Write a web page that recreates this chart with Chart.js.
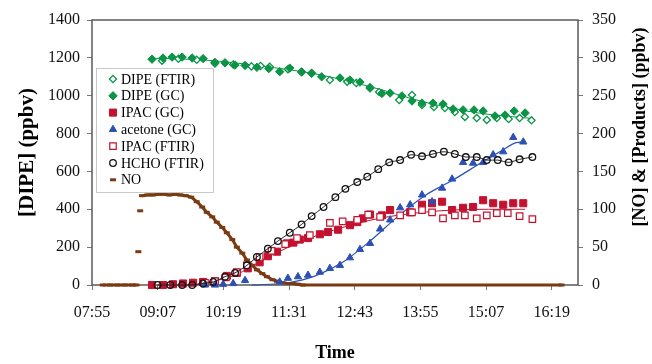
<!DOCTYPE html>
<html>
<head>
<meta charset="utf-8">
<title>DIPE photo-oxidation</title>
<script src="https://cdn.jsdelivr.net/npm/chart.js@4.4.1/dist/chart.umd.min.js"></script>
<style>
  html, body { margin: 0; padding: 0; background: #fff; }
  #wrap { width: 652px; height: 364px; }
</style>
</head>
<body>
<div id="wrap"><canvas id="chart" width="652" height="364"></canvas></div>
<script>
// times are minutes after midnight
var xTicks = [475.2, 547.2, 619.2, 691.2, 763.2, 835.2, 907.2, 979.2];
var xTickLabels = ['07:55', '09:07', '10:19', '11:31', '12:43', '13:55', '15:07', '16:19'];
var xMin = 475.2;
var xMax = 1008;

// left axis: DIPE (ppbv)
var dipeGcTime = [541, 553, 563, 574, 585, 597, 610, 621, 632, 643, 656, 669, 681, 692, 705, 716, 727, 747, 758, 769, 780, 793, 802, 815, 826, 837, 849, 860, 871, 882, 894, 904, 917, 928, 938, 950];
var dipeGcVal = [1193, 1199, 1204, 1204, 1199, 1196, 1176, 1174, 1162, 1160, 1150, 1143, 1127, 1146, 1125, 1118, 1100, 1094, 1083, 1072, 1040, 1012, 1014, 999, 972, 961, 961, 956, 930, 925, 925, 919, 893, 898, 919, 909];

var dipeFtirTime = [552, 570, 590, 610, 630, 650, 660, 670, 690, 705, 716, 736, 755, 765, 780, 790, 812, 826, 837, 850, 862, 873, 884, 897, 908, 919, 932, 944, 957];
var dipeFtirVal = [1185, 1195, 1190, 1170, 1165, 1155, 1157, 1153, 1140, 1127, 1120, 1083, 1074, 1067, 1045, 1020, 977, 1004, 951, 940, 935, 914, 888, 882, 872, 882, 877, 882, 870];

var dipeFitTime = [541, 600, 660, 720, 780, 840, 900, 957];
var dipeFitVal = [1198, 1188, 1157, 1115, 1048, 966, 908, 880];

// right axis: NO & products (ppbv)
var ipacGcTime = [541, 553, 564, 575, 586, 597, 610, 623, 634, 646, 659, 668, 678, 689, 696, 703, 712, 725, 734, 745, 758, 766, 772, 780, 793, 802, 824, 837, 848, 859, 870, 882, 893, 904, 915, 926, 937, 948];
var ipacGcVal = [0, 0, 1, 2, 3, 4, 5, 12, 16, 22, 30, 38, 44, 55, 56, 60, 62, 67, 70, 73, 79, 83, 88, 93, 92, 99, 96, 106, 108, 110, 99, 102, 103, 112, 108, 106, 108, 108];

var ipacFtirTime = [599, 610, 622, 634, 645, 659, 672, 687, 700, 714, 736, 750, 766, 778, 791, 813, 826, 837, 848, 860, 873, 884, 897, 908, 919, 931, 944, 958];
var ipacFtirVal = [3, 5, 10, 17, 26, 37, 45, 54, 62, 66, 82, 84, 86, 93, 90, 92, 96, 99, 96, 88, 92, 92, 88, 92, 95, 95, 91, 87];

var ipacFitTime = [590, 630, 670, 710, 750, 790, 830, 870, 910, 950];
var ipacFitVal = [1, 12, 38, 60, 76, 88, 95, 99, 100, 100];

var acetoneTime = [599, 610, 619, 630, 643, 681, 690, 701, 712, 725, 736, 747, 758, 769, 780, 791, 802, 813, 824, 837, 848, 859, 870, 882, 893, 904, 915, 926, 937, 948];
var acetoneVal = [0, 0, 1, 2, 6, 4, 9, 11, 13, 17, 22, 26, 36, 47, 55, 74, 86, 102, 106, 119, 110, 128, 140, 162, 161, 162, 172, 176, 195, 189];

var acetoneFitTime = [650, 690, 720, 750, 780, 810, 840, 870, 900, 925, 940, 948];
var acetoneFitVal = [0, 3, 12, 30, 58, 90, 118, 138, 160, 178, 188, 189];

var hchoTime = [547, 561, 574, 585, 597, 608, 621, 632, 645, 656, 668, 679, 692, 705, 716, 729, 742, 753, 766, 777, 789, 801, 813, 825, 837, 849, 861, 873, 885, 897, 908, 920, 932, 944, 958];
var hchoVal = [0, 0, 0, 0, 2, 4, 11, 16, 26, 37, 48, 58, 69, 80, 91, 103, 116, 127, 136, 143, 153, 162, 165, 172, 170, 173, 176, 173, 169, 169, 165, 165, 162, 166, 169];

// null = break in the NO trace
var noTime = [487, 495, 503, 511, 519, 524, 525, 526, 527, 528, 529, 530, 536, 542, 548, 554, 560, 566, 572, 578, 584, 590, 596, 601, 607, 612, 618, 623, 629, 634, 640, 645, 651, 656, 662, 667, 673, 678, 684, 690, 695, 701, 706, 990];
var noVal = [0, 0, 0, 0, 0, 0, null, 44, null, 98, null, 118, 119, 119, 120, 120, 119, 120, 119, 118, 116, 110, 103, 96, 90, 83, 76, 69, 60, 50, 42, 33, 26, 20, 15, 11, 7, 5, 3, 2, 2, 1, 0, 0];

var GREEN = '#0b9446';
var RED = '#c3122f';
var BLUE = '#2c50b4';
var BROWN = '#7a3b12';
var SERIF = '"Liberation Serif", "Times New Roman", serif';

function pts(t, v) {
    return t.map(function (x, i) { return {x: x, y: v[i]}; });
}

function drawMarker(ctx, style, x, y, r, fill, stroke, lw) {
    ctx.save();
    ctx.fillStyle = fill;
    ctx.strokeStyle = stroke;
    ctx.lineWidth = lw;
    ctx.beginPath();
    if (style === 'rectRot') {
        ctx.moveTo(x, y - r); ctx.lineTo(x + r, y); ctx.lineTo(x, y + r); ctx.lineTo(x - r, y); ctx.closePath();
    } else if (style === 'rect') {
        var s = r * Math.SQRT1_2;
        ctx.rect(x - s, y - s, 2 * s, 2 * s);
    } else if (style === 'triangle') {
        var a = 0;
        ctx.moveTo(x + Math.sin(a) * r, y - Math.cos(a) * r);
        a += 2 * Math.PI / 3;
        ctx.lineTo(x + Math.sin(a) * r, y - Math.cos(a) * r);
        a += 2 * Math.PI / 3;
        ctx.lineTo(x + Math.sin(a) * r, y - Math.cos(a) * r);
        ctx.closePath();
    } else if (style === 'circle') {
        ctx.arc(x, y, r, 0, 2 * Math.PI);
    } else if (style === 'line') {
        ctx.moveTo(x - r, y); ctx.lineTo(x + r, y);
        ctx.stroke();
        ctx.restore();
        return;
    }
    ctx.fill();
    ctx.stroke();
    ctx.restore();
}

// legend box sitting inside the plot, upper left
var insideLegend = {
    id: 'insideLegend',
    afterDatasetsDraw: function (chart) {
        var ctx = chart.ctx;
        ctx.save();
        ctx.fillStyle = '#fff';
        ctx.fillRect(96.5, 68.5, 117, 124);
        ctx.strokeStyle = '#c8c8c8';
        ctx.lineWidth = 1;
        ctx.strokeRect(96.5, 68.5, 117, 124);
        ctx.font = '14px ' + SERIF;
        ctx.textBaseline = 'middle';
        var i = 0;
        chart.data.datasets.forEach(function (ds) {
            if (!ds.inLegend) return;
            var y = 79 + i * 16.8;
            drawMarker(ctx, ds.pointStyle, 113, y, ds.pointRadius, ds.pointBackgroundColor, ds.pointBorderColor, ds.pointBorderWidth);
            ctx.fillStyle = '#000';
            ctx.fillText(ds.label, 121, y + 1);
            i++;
        });
        ctx.restore();
    }
};

// plot frame under the data, and the right title reading bottom-to-top
var frame = {
    id: 'frame',
    beforeDatasetsDraw: function (chart) {
        var a = chart.chartArea;
        var ctx = chart.ctx;
        ctx.save();
        ctx.strokeStyle = '#5a5a5a';
        ctx.lineWidth = 1.5;
        ctx.strokeRect(a.left, a.top, a.right - a.left, a.bottom - a.top);
        ctx.translate(640, 127);
        ctx.rotate(-Math.PI / 2);
        ctx.font = 'bold 18px ' + SERIF;
        ctx.fillStyle = '#000';
        ctx.textAlign = 'center';
        ctx.textBaseline = 'middle';
        ctx.fillText('[NO] & [Products] (ppbv)', 0, 0);
        ctx.restore();
    }
};

var datasets = [
    {
        label: 'DIPE (FTIR)', inLegend: true, yAxisID: 'y', data: pts(dipeFtirTime, dipeFtirVal),
        pointStyle: 'rectRot', pointRadius: 3.6, pointBackgroundColor: '#fff', pointBorderColor: GREEN, pointBorderWidth: 1.3,
        showLine: false, order: 3
    },
    {
        label: 'DIPE (GC)', inLegend: true, yAxisID: 'y', data: pts(dipeGcTime, dipeGcVal),
        pointStyle: 'rectRot', pointRadius: 4.2, pointBackgroundColor: GREEN, pointBorderColor: GREEN, pointBorderWidth: 1,
        showLine: false, order: 2
    },
    {
        label: 'IPAC (GC)', inLegend: true, yAxisID: 'y1', data: pts(ipacGcTime, ipacGcVal),
        pointStyle: 'rect', pointRadius: 5, pointBackgroundColor: RED, pointBorderColor: RED, pointBorderWidth: 1,
        showLine: false, order: 4
    },
    {
        label: 'acetone (GC)', inLegend: true, yAxisID: 'y1', data: pts(acetoneTime, acetoneVal),
        pointStyle: 'triangle', pointRadius: 4.2, pointBackgroundColor: BLUE, pointBorderColor: BLUE, pointBorderWidth: 1,
        showLine: false, order: 2
    },
    {
        label: 'IPAC (FTIR)', inLegend: true, yAxisID: 'y1', data: pts(ipacFtirTime, ipacFtirVal),
        pointStyle: 'rect', pointRadius: 4.6, pointBackgroundColor: '#fff', pointBorderColor: RED, pointBorderWidth: 1.2,
        showLine: false, order: 3
    },
    {
        label: 'HCHO (FTIR)', inLegend: true, yAxisID: 'y1', data: pts(hchoTime, hchoVal),
        pointStyle: 'circle', pointRadius: 3.3, pointBackgroundColor: 'rgba(255,255,255,0)', pointBorderColor: '#111', pointBorderWidth: 1.3,
        showLine: true, borderColor: '#222', borderWidth: 1, tension: 0.3, order: 1
    },
    {
        label: 'NO', inLegend: true, yAxisID: 'y1', data: pts(noTime, noVal),
        pointStyle: 'line', pointRadius: 3, pointBackgroundColor: BROWN, pointBorderColor: BROWN, pointBorderWidth: 3,
        showLine: true, borderColor: BROWN, borderWidth: 3, spanGaps: false, order: 5
    },
    // fitted curves (not in legend)
    {
        label: 'DIPE fit', yAxisID: 'y', data: pts(dipeFitTime, dipeFitVal),
        showLine: true, pointRadius: 0, borderColor: GREEN, borderWidth: 1, cubicInterpolationMode: 'monotone', order: 6
    },
    {
        label: 'IPAC fit', yAxisID: 'y1', data: pts(ipacFitTime, ipacFitVal),
        showLine: true, pointRadius: 0, borderColor: RED, borderWidth: 1, cubicInterpolationMode: 'monotone', order: 6
    },
    {
        label: 'acetone fit', yAxisID: 'y1', data: pts(acetoneFitTime, acetoneFitVal),
        showLine: true, pointRadius: 0, borderColor: BLUE, borderWidth: 1.2, cubicInterpolationMode: 'monotone', order: 6
    }
];
datasets.forEach(function (d) { d.clip = false; });

var tickFont = {family: SERIF, size: 16};
var plainNumber = function (value) { return String(value); };

new Chart(document.getElementById('chart'), {
    type: 'scatter',
    data: {datasets: datasets},
    options: {
        responsive: false,
        animation: false,
        devicePixelRatio: 1,
        layout: {padding: {top: 20, left: 0, right: 0, bottom: 0}},
        plugins: {legend: {display: false}, tooltip: {enabled: false}},
        scales: {
            x: {
                type: 'linear',
                min: xMin,
                max: xMax,
                afterBuildTicks: function (scale) {
                    scale.ticks = xTicks.map(function (v) { return {value: v}; });
                },
                afterFit: function (scale) { scale.height = 79; },
                ticks: {
                    autoSkip: false, maxRotation: 0, padding: 13, color: '#111', font: tickFont,
                    callback: function (value, index) { return xTickLabels[index]; }
                },
                grid: {drawOnChartArea: false, drawTicks: true, tickLength: 5, color: '#777'},
                border: {display: false},
                title: {display: true, text: 'Time', color: '#000', font: {family: SERIF, size: 18, weight: 'bold'}, padding: {top: 0, bottom: 0}}
            },
            y: {
                position: 'left',
                min: 0,
                max: 1400,
                afterFit: function (scale) { scale.width = 92; },
                ticks: {stepSize: 200, padding: 7, color: '#111', font: tickFont, callback: plainNumber},
                grid: {drawOnChartArea: false, drawTicks: true, tickLength: 5, color: '#777'},
                border: {display: false},
                title: {display: true, text: '[DIPE] (ppbv)', color: '#000', font: {family: SERIF, size: 21, weight: 'bold'}, padding: {top: 15, bottom: 0}}
            },
            y1: {
                position: 'right',
                min: 0,
                max: 350,
                afterFit: function (scale) { scale.width = 74; },
                ticks: {stepSize: 50, padding: 9, color: '#111', font: tickFont, callback: plainNumber},
                grid: {drawOnChartArea: false, drawTicks: true, tickLength: 5, color: '#777'},
                border: {display: false}
            }
        }
    },
    plugins: [frame, insideLegend]
});
</script>
</body>
</html>
